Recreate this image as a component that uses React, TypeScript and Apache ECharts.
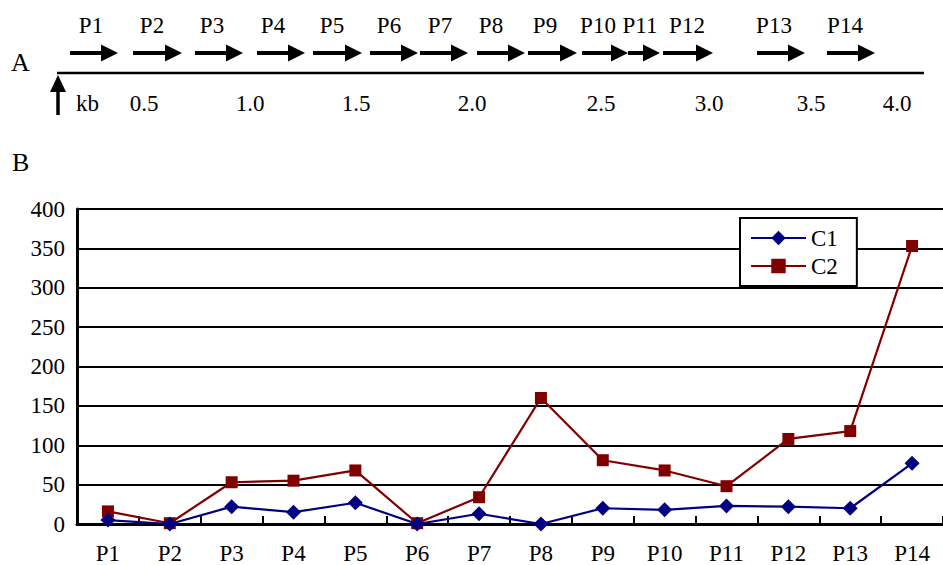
import React, { useEffect, useRef } from "react";
import * as echarts from "echarts";

// Panel B data
const categories = ["P1", "P2", "P3", "P4", "P5", "P6", "P7", "P8", "P9", "P10", "P11", "P12", "P13", "P14"];
const c1Values = [5, 0, 22, 15, 27, 0, 13, 0, 20, 18, 23, 22, 20, 77];
const c2Values = [16, 1, 53, 55, 68, 1, 34, 160, 81, 68, 48, 108, 118, 353];
const yTicks = [0, 50, 100, 150, 200, 250, 300, 350, 400];

// Panel A diagram (positions along the drawn map, in map units)
const promoters = ["P1", "P2", "P3", "P4", "P5", "P6", "P7", "P8", "P9", "P10", "P11", "P12", "P13", "P14"];
const arrowStart = [70, 133, 195, 257, 313, 370, 420, 477, 528, 582, 628, 663, 757, 827];
const arrowEnd = [118, 182, 243, 305, 362, 418, 468, 525, 577, 628, 660, 713, 805, 875];
const promoterLabelPos = [91, 152, 212, 273, 332, 389, 440, 491, 545, 598, 640, 687, 774, 845];
const kbLabels = ["0.5", "1.0", "1.5", "2.0", "2.5", "3.0", "3.5", "4.0"];
const kbLabelPos = [144, 250, 356, 472, 601, 709, 811, 897];
const mapStart = 57;
const mapEnd = 924;

const FONT = '"Liberation Serif", "Times New Roman", serif';

export default function App() {
  const ref = useRef<HTMLDivElement>(null);
  useEffect(() => {
    document.body.style.margin = "0";
    document.body.style.overflow = "hidden";
    if (!ref.current) return;
    const chart = echarts.init(ref.current, null, { renderer: "svg" });
    const font = `23px ${FONT}`;

    const arrowData = promoters.map((p, i) => [arrowStart[i], arrowEnd[i], promoterLabelPos[i], p]);
    const kbData = kbLabels.map((l, i) => [kbLabelPos[i], l]);

    chart.setOption({
      animation: false,
      backgroundColor: "#ffffff",
      textStyle: { fontFamily: FONT },
      grid: [
        { left: 77, top: 209, width: 875, height: 316, containLabel: false },
        { left: 0, top: 0, width: 943, height: 565, containLabel: false },
      ],
      legend: {
        data: ["C1", "C2"],
        orient: "vertical",
        left: 740,
        top: 218,
        padding: [7, 19, 7, 10],
        itemGap: 2,
        itemWidth: 55,
        itemHeight: 18,
        backgroundColor: "#ffffff",
        borderColor: "#000000",
        borderWidth: 2,
        borderRadius: 0,
        textStyle: { fontFamily: FONT, fontSize: 23, color: "#000000", lineHeight: 26 },
      },
      xAxis: [
        {
          type: "category",
          gridIndex: 0,
          data: categories,
          boundaryGap: true,
          axisLine: { show: true, lineStyle: { color: "#000000", width: 3 } },
          axisTick: { show: true, inside: true, length: 8, interval: 0, lineStyle: { color: "#000000", width: 2 } },
          axisLabel: { interval: 0, margin: 18, fontFamily: FONT, fontSize: 23, color: "#000000" },
          splitLine: { show: false },
        },
        { type: "value", gridIndex: 1, min: 0, max: 943, show: false },
      ],
      yAxis: [
        {
          type: "value",
          gridIndex: 0,
          min: yTicks[0],
          max: yTicks[yTicks.length - 1],
          interval: 50,
          axisLine: { show: true, lineStyle: { color: "#000000", width: 3 } },
          axisTick: { show: false },
          axisLabel: { margin: 12, fontFamily: FONT, fontSize: 23, color: "#000000" },
          splitLine: { show: true, lineStyle: { color: "#000000", width: 2 } },
        },
        { type: "value", gridIndex: 1, min: 0, max: 565, inverse: true, show: false },
      ],
      graphic: [
        { type: "text", left: 11, top: 49, style: { text: "A", font: `26px ${FONT}`, fill: "#000" } },
        { type: "text", left: 12, top: 149, style: { text: "B", font: `26px ${FONT}`, fill: "#000" } },
      ],
      series: [
        {
          name: "C1",
          type: "line",
          xAxisIndex: 0,
          yAxisIndex: 0,
          data: c1Values,
          symbol: "diamond",
          symbolSize: 15,
          itemStyle: { color: "#000080" },
          lineStyle: { color: "#000080", width: 2.2 },
          z: 3,
        },
        {
          name: "C2",
          type: "line",
          xAxisIndex: 0,
          yAxisIndex: 0,
          data: c2Values,
          symbol: "rect",
          symbolSize: 12,
          itemStyle: { color: "#800000" },
          lineStyle: { color: "#800000", width: 2.2 },
          z: 2,
        },
        {
          name: "map",
          type: "custom",
          xAxisIndex: 1,
          yAxisIndex: 1,
          data: [[mapStart, mapEnd]],
          silent: true,
          renderItem: (params: any, api: any) => {
            const a = api.coord([api.value(0), 73]);
            const b = api.coord([api.value(1), 73]);
            const o = api.coord([api.value(0) + 1, 0]);
            const shaftBottom = api.coord([0, 115]);
            const headTop = api.coord([0, 75]);
            const headBase = api.coord([0, 92]);
            return {
              type: "group",
              children: [
                { type: "line", shape: { x1: a[0], y1: a[1], x2: b[0], y2: b[1] }, style: { stroke: "#000", lineWidth: 2.5 } },
                { type: "line", shape: { x1: o[0], y1: headBase[1] - 2, x2: o[0], y2: shaftBottom[1] }, style: { stroke: "#000", lineWidth: 3.5 } },
                {
                  type: "polygon",
                  shape: { points: [[o[0], headTop[1]], [o[0] - 8, headBase[1]], [o[0] + 8, headBase[1]]] },
                  style: { fill: "#000" },
                },
                { type: "text", style: { text: "kb", x: o[0] + 18, y: api.coord([0, 103])[1], font, fill: "#000", align: "left", verticalAlign: "middle" } },
              ],
            };
          },
        },
        {
          name: "promoters",
          type: "custom",
          xAxisIndex: 1,
          yAxisIndex: 1,
          data: arrowData,
          silent: true,
          renderItem: (params: any, api: any) => {
            const d = arrowData[params.dataIndex];
            const s = api.coord([d[0] as number, 53]);
            const e = api.coord([d[1] as number, 53]);
            const lp = api.coord([d[2] as number, 25]);
            const head = 17;
            return {
              type: "group",
              children: [
                { type: "line", shape: { x1: s[0], y1: s[1], x2: e[0] - head + 2, y2: e[1] }, style: { stroke: "#000", lineWidth: 4 } },
                {
                  type: "polygon",
                  shape: { points: [[e[0], e[1]], [e[0] - head, e[1] - 8.5], [e[0] - head, e[1] + 8.5]] },
                  style: { fill: "#000" },
                },
                { type: "text", style: { text: d[3], x: lp[0], y: lp[1], font, fill: "#000", align: "center", verticalAlign: "middle" } },
              ],
            };
          },
        },
        {
          name: "kbScale",
          type: "custom",
          xAxisIndex: 1,
          yAxisIndex: 1,
          data: kbData,
          silent: true,
          renderItem: (params: any, api: any) => {
            const d = kbData[params.dataIndex];
            const p = api.coord([d[0] as number, 103]);
            return { type: "text", style: { text: d[1], x: p[0], y: p[1], font, fill: "#000", align: "center", verticalAlign: "middle" } };
          },
        },
      ],
    });
    return () => chart.dispose();
  }, []);
  return <div ref={ref} style={{ width: 943, height: 565 }} />;
}
